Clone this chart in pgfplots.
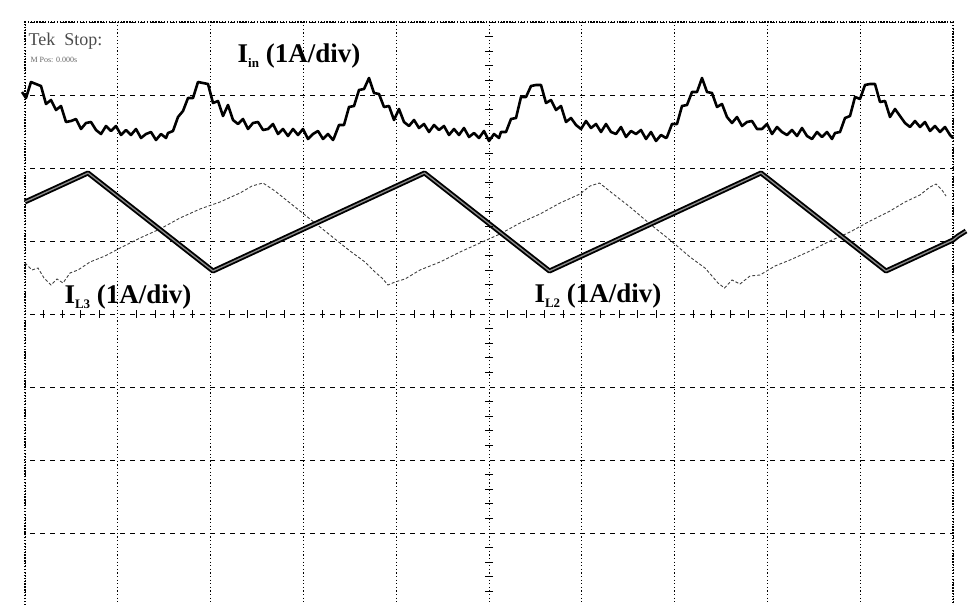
\documentclass[border=0pt]{standalone}
\usepackage{fontspec}
\setmainfont{Liberation Serif}
\usepackage{pgfplots}
\usepackage{pgfplotstable}
\pgfplotsset{compat=1.18}
\pgfplotstableread{
x y
22 92
26 98
31 82
36 84
41 86
46 104
51 100
56 110
61 106
66 122
71 121
76 119
81 129
86 123
91 122
96 130
101 134
106 126
111 131
116 126
121 135
126 130
131 135
136 129
141 138
146 134
151 132
156 140
161 134
166 138
168 133
173 131
178 117
183 111
188 98
193 98
198 82
203 83
208 84
213 103
218 101
223 116
228 105
233 120
238 124
243 119
248 129
253 123
258 122
263 130
268 129
273 124
278 134
283 129
288 136
293 129
298 135
303 129
308 139
313 134
318 131
323 139
328 134
333 140
334 138
339 125
344 125
349 107
354 106
359 90
364 89
369 78
374 93
379 94
384 107
389 106
394 120
399 109
404 122
409 126
414 120
419 128
424 124
429 132
434 125
439 130
444 126
449 135
454 129
459 135
464 128
469 137
474 133
479 138
484 131
489 141
494 134
499 138
501 132
506 132
511 119
516 118
521 97
526 97
531 86
536 85
541 85
546 103
551 100
556 110
561 106
566 122
571 118
576 125
581 129
586 121
591 128
596 124
601 132
606 124
611 132
616 134
621 127
626 137
631 131
636 134
641 130
646 139
651 132
656 141
661 135
666 138
667 137
672 124
677 124
682 106
687 105
692 92
697 92
702 78
707 92
712 93
717 107
722 104
727 117
732 123
737 117
742 126
747 122
752 121
757 129
762 129
767 124
772 134
777 127
782 132
787 135
792 130
797 136
802 128
807 136
812 139
817 132
822 137
827 132
832 139
835 133
840 132
845 118
850 116
855 97
860 99
865 85
870 84
875 84
880 102
885 101
890 117
895 109
900 116
905 123
910 127
915 121
920 127
925 122
930 131
935 126
940 132
945 127
950 135
953 138
}\Iin
\pgfplotstableread{
x y
25 201.9
88 173
213 271
424.5 173
549.5 271
761 173
886 271
953 240
958 236
966 231
}\ILtwo
\pgfplotstableread{
x y
25 263
32 270
38 268
44 278
51 285
57 279
63 283
70 273
78 270
90 262
105 256
120 248
140 238
160 229
180 218
200 209
220 202
240 193
252 186
263 183
275 191
290 203
310 219
330 235
350 251
365 262
375 272
382 278
388 285
395 282
405 279
420 270
440 262
460 252
480 243
500 234
520 223
540 214
560 203
580 194
590 186
599.5 183
612 193
630 207
650 224
670 240
690 257
705 268
712 276
718 283
724.5 288
732 280
740 284
750 276
760 275
775 266
790 260
810 251
830 241
850 232
870 221
890 211
905 202
920 195
930 187
936 184
942 190
946 196
}\ILthree
\begin{document}
\begin{tikzpicture}
\begin{axis}[
  scale only axis, width=972pt, height=605pt,
  xmin=0, xmax=972, ymin=0, ymax=605, y dir=reverse,
  axis line style={draw=none},
  xtick={25,117.8,210.6,303.4,396.2,489,581.8,674.6,767.4,860.2,953},
  ytick={22,95,168,241,314,387,460,533},
  xticklabels={}, yticklabels={},
  major tick length=0pt,
  grid=major,
  major x grid style={black, line width=0.9pt, dash pattern=on 1.2pt off 2.4pt},
  major y grid style={black, line width=0.9pt, dash pattern=on 5pt off 5pt},
]
% blank margins outside the graticule
\fill[white] (axis cs:0,0) rectangle (axis cs:972,21);
\fill[white] (axis cs:0,0) rectangle (axis cs:24,605);
\fill[white] (axis cs:954,0) rectangle (axis cs:972,605);
% frame
\addplot[black, line width=1.2pt, dash pattern=on 1.3pt off 1.6pt] coordinates {(25,605) (25,22) (953,22) (953,605)};
% centre axis minor ticks
\addplot[only marks, mark=-, mark size=4pt, mark options={line width=0.8pt, black}] coordinates {
(489,36.6)(489,51.2)(489,65.8)(489,80.4)(489,109.6)(489,124.2)(489,138.8)(489,153.4)
(489,182.6)(489,197.2)(489,211.8)(489,226.4)(489,255.6)(489,270.2)(489,284.8)(489,299.4)
(489,328.6)(489,343.2)(489,357.8)(489,372.4)(489,401.6)(489,416.2)(489,430.8)(489,445.4)
(489,474.6)(489,489.2)(489,503.8)(489,518.4)(489,547.6)(489,562.2)(489,576.8)(489,591.4)};
\addplot[only marks, mark=|, mark size=4pt, mark options={line width=0.8pt, black}] coordinates {
(43.56,314)(62.12,314)(80.68,314)(99.24,314)(136.36,314)(154.92,314)(173.48,314)(192.04,314)
(229.16,314)(247.72,314)(266.28,314)(284.84,314)(321.96,314)(340.52,314)(359.08,314)(377.64,314)
(414.76,314)(433.32,314)(451.88,314)(470.44,314)(507.56,314)(526.12,314)(544.68,314)(563.24,314)
(600.36,314)(618.92,314)(637.48,314)(656.04,314)(693.16,314)(711.72,314)(730.28,314)(748.84,314)
(785.96,314)(804.52,314)(823.08,314)(841.64,314)(878.76,314)(897.32,314)(915.88,314)(934.44,314)};
% traces
\addplot[black!75, line width=0.9pt, dash pattern=on 3pt off 2pt] table {\ILthree};
\addplot[black, line width=5pt, line join=round] table {\ILtwo};
\addplot[black!45, line width=1.3pt, line join=round] table {\ILtwo};
\addplot[black, line width=2.6pt, line join=round] table {\Iin};
% labels
\node[font=\fontsize{27}{30}\selectfont\bfseries] at (axis cs:299,56) {I\raisebox{-0.4ex}{\fontsize{13}{13}\selectfont in} (1A/div)};
\node[font=\fontsize{27}{30}\selectfont\bfseries] at (axis cs:128,297) {I\raisebox{-0.4ex}{\fontsize{13}{13}\selectfont L3} (1A/div)};
\node[font=\fontsize{27}{30}\selectfont\bfseries] at (axis cs:598,296) {I\raisebox{-0.4ex}{\fontsize{13}{13}\selectfont L2} (1A/div)};
\node[font=\fontsize{18}{19}\selectfont, text=black!70, anchor=west] at (axis cs:25,41) {Tek\,\,\,Stop:};
\node[font=\fontsize{8}{9}\selectfont, text=black!60, anchor=west] at (axis cs:27,60) {M Pos: 0.000s};
\end{axis}
\pgfresetboundingbox
\useasboundingbox (current axis.south west) rectangle (current axis.north east);
\end{tikzpicture}
\end{document}
